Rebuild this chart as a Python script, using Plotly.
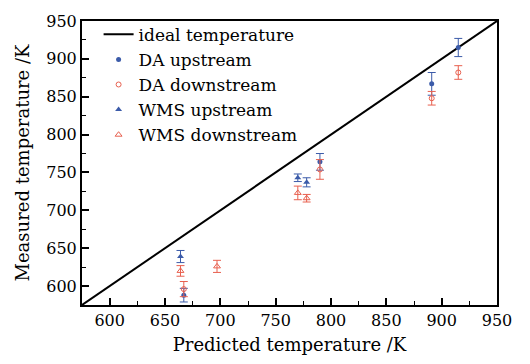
import plotly.graph_objects as go

ideal_x = [575, 950]
ideal_y = [575, 950]

da_up_x = [667, 790, 891, 915]
da_up_y = [588, 764, 867, 915]
da_up_err = [9, 11, 15, 12]

da_down_x = [667, 790, 891, 915]
da_down_y = [596, 754, 848, 882]
da_down_err = [10, 13, 9, 9]

wms_up_x = [664, 770, 778]
wms_up_y = [639, 743, 737]
wms_up_err = [8, 5, 6]

wms_down_x = [664, 697, 770, 778]
wms_down_y = [620, 626, 723, 716]
wms_down_err = [7, 8, 9, 5]

BLUE = "#3b5ba9"
RED = "#e8604f"
FONT = "DejaVu Serif"

fig = go.Figure()
fig.add_trace(go.Scatter(x=ideal_x, y=ideal_y, mode="lines", name="ideal temperature",
                         line=dict(color="black", width=2)))
fig.add_trace(go.Scatter(x=da_up_x, y=da_up_y, mode="markers", name="DA upstream",
                         marker=dict(symbol="circle", size=5, color=BLUE),
                         error_y=dict(type="data", array=da_up_err, color=BLUE, thickness=1, width=4)))
fig.add_trace(go.Scatter(x=da_down_x, y=da_down_y, mode="markers", name="DA downstream",
                         marker=dict(symbol="circle-open", size=5, color=RED, line=dict(width=1)),
                         error_y=dict(type="data", array=da_down_err, color=RED, thickness=1, width=4)))
fig.add_trace(go.Scatter(x=wms_up_x, y=wms_up_y, mode="markers", name="WMS upstream",
                         marker=dict(symbol="triangle-up", size=6, color=BLUE),
                         error_y=dict(type="data", array=wms_up_err, color=BLUE, thickness=1, width=4)))
fig.add_trace(go.Scatter(x=wms_down_x, y=wms_down_y, mode="markers", name="WMS downstream",
                         marker=dict(symbol="triangle-up-open", size=6, color=RED, line=dict(width=1)),
                         error_y=dict(type="data", array=wms_down_err, color=RED, thickness=1, width=4)))

axis_common = dict(
    showline=True, linecolor="black", linewidth=2, mirror=True,
    ticks="inside", ticklen=7, tickwidth=1.5, tickcolor="black",
    showgrid=False, zeroline=False,
    tickfont=dict(family=FONT, size=16, color="black"),
    minor=dict(ticks="inside", ticklen=4, tickwidth=1, tickcolor="black", dtick=25, showgrid=False),
)

fig.update_layout(
    width=530, height=364,
    margin=dict(l=82, r=33, t=13, b=52),
    paper_bgcolor="white", plot_bgcolor="white",
    font=dict(family=FONT, color="black"),
    xaxis=dict(range=[575, 950], tick0=600, dtick=50,
               title=dict(text="Predicted temperature /K", font=dict(family=FONT, size=18), standoff=9),
               **axis_common),
    yaxis=dict(range=[575, 950], tick0=600, dtick=50,
               title=dict(text="Measured temperature /K", font=dict(family=FONT, size=18), standoff=12),
               **axis_common),
    legend=dict(x=0.04, y=1.015, xanchor="left", yanchor="top",
                font=dict(family=FONT, size=17, color="black"),
                bgcolor="rgba(0,0,0,0)", tracegroupgap=0, itemwidth=30),
    showlegend=True,
)

fig.write_html("out.html")
